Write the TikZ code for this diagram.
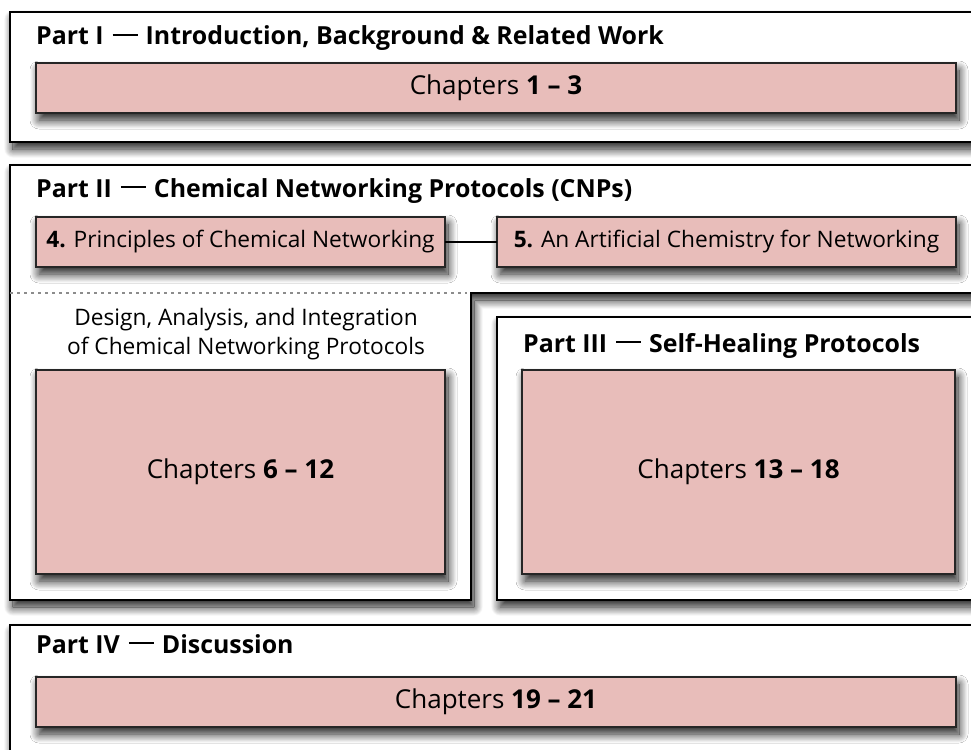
\documentclass[tikz,border=0pt]{standalone}
\usepackage{fontspec}
\setmainfont{Open Sans}
\usetikzlibrary{shadows.blur}
\definecolor{chapfill}{RGB}{232,189,186}
% long rule used as the dash in the part titles
\newcommand\partdash{\hspace{9pt}\rule[9.2pt]{25pt}{2.2pt}\hspace{8pt}}
\tikzset{
  softshadow/.style={blur shadow={shadow xshift=3pt, shadow yshift=-7pt,
      shadow blur radius=9pt, shadow blur steps=20, shadow opacity=90}},
  partframe/.style={draw=black, line width=1.8pt, fill=white, softshadow},
  chapbox/.style={draw=black!85, line width=1.8pt, fill=chapfill, softshadow,
      inner sep=0pt, outer sep=0pt, anchor=north west},
  parttitle/.style={anchor=base west, inner sep=0pt,
      font=\fontsize{24.9}{30}\selectfont\bfseries},
  chaptext/.style={font=\fontsize{26}{31}\selectfont},
  smalltext/.style={font=\fontsize{22.7}{29}\selectfont},
  link/.style={draw=black, line width=2.8pt},
  divider/.style={draw=black!45, line width=1.2pt, dash pattern=on 3pt off 4pt},
}
\begin{document}
\begin{tikzpicture}[x=1pt, y=-1pt]
  \useasboundingbox (0,0) rectangle (971,749);
  \clip (0,0) rectangle (971,749);

  % Part I frame
  \path[partframe] (10,12) rectangle (1000,142);
  % Part II frame: full-width header band plus left column
  \path[partframe] (10,165) -- (1000,165) -- (1000,293) -- (471,293)
        -- (471,600) -- (10,600) -- cycle;
  % Part III frame
  \path[partframe] (497,317) rectangle (1000,600);
  % Part IV frame
  \path[partframe] (10,625) rectangle (1000,790);

  % Part titles
  \node[parttitle] (t1) at (36,45) {Part I\partdash Introduction, Background \& Related Work};
  \node[parttitle] (t2) at (36,197) {Part II\partdash Chemical Networking Protocols (CNPs)};
  \node[parttitle] (t3) at (523,352) {Part III\partdash Self-Healing Protocols};
  \node[parttitle] (t4) at (36,653) {Part IV\partdash Discussion};

  % Chapter boxes
  \node[chapbox, chaptext, minimum width=920pt, minimum height=50pt] (c13) at (36,63)
        {Chapters \textbf{1 – 3}};
  \node[chapbox, smalltext, minimum width=409pt, minimum height=50pt] (c4) at (36,217)
        {\textbf{4.} Principles of Chemical Networking};
  \node[chapbox, smalltext, minimum width=459pt, minimum height=50pt] (c5) at (497,217)
        {\textbf{5.} An Artificial Chemistry for Networking};
  \node[chapbox, chaptext, minimum width=409pt, minimum height=204pt] (c612) at (36,370)
        {Chapters \textbf{6 – 12}};
  \node[chapbox, chaptext, minimum width=433pt, minimum height=204pt] (c1318) at (522,370)
        {Chapters \textbf{13 – 18}};
  \node[chapbox, chaptext, minimum width=920pt, minimum height=50pt] (c1921) at (36,677)
        {Chapters \textbf{19 – 21}};

  % Link between chapters 4 and 5
  \draw[link] (c4.east) -- (c5.west);

  % Dotted divider inside Part II
  \coordinate (dl) at (10,293);
  \coordinate (dr) at (467,293);
  \draw[divider] (dl) -- (dr);

  % Caption of the left column (anchor sits on the last baseline)
  \node[smalltext, align=center, anchor=base, inner sep=0pt] (cap) at (246,354)
        {Design, Analysis, and Integration\\of Chemical Networking Protocols};
\end{tikzpicture}
\end{document}
